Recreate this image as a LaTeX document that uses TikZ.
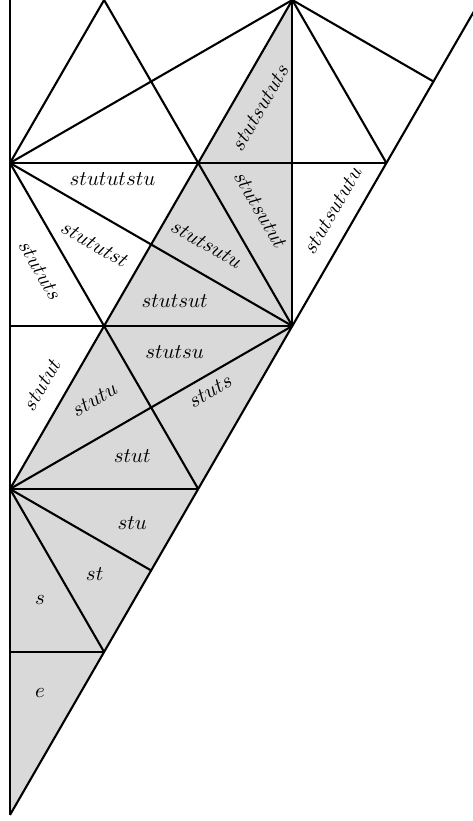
\documentclass[tikz,border=0pt]{standalone}
\begin{document}
\begin{tikzpicture}[x=1.582cm, y=2.74cm, line join=round,
    wall/.style={line width=1pt},
    cell/.style={inner sep=1pt}]
    \useasboundingbox (-0.106,-0.037) rectangle (4.92,5);
    \clip (-0.106,-0.037) rectangle (4.92,5);
    % shaded alcoves
    \fill[gray!30] (0,0) -- (0,2) -- (3,5) -- (3,3) -- cycle;
    % walls
    \draw[wall] (0,0) -- (0,5.2);
    \draw[wall] (0,0) -- (5.2,5.2);
    \foreach \k in {1,...,4}
      \draw[wall] (0,\k) -- (\k,\k);
    \draw[wall] (3,3) -- (3,5.2);
    \draw[wall] (0,2) -- (1,1);
    \draw[wall] (0,2) -- (1.5,1.5);
    \draw[wall] (0,2) -- (3,3);
    \draw[wall] (0,2) -- (3,5);
    \draw[wall] (0,4) -- (2,2);
    \draw[wall] (0,4) -- (3,3);
    \draw[wall] (1,5) -- (3,3);
    \draw[wall] (0,4) -- (1,5);
    \draw[wall] (0,4) -- (3,5);
    \draw[wall] (3,5) -- (4,4);
    \draw[wall] (3,5) -- (4.5,4.5);
    % labels
    \node[cell] (e) at (0.32,0.75) {$e$};
    \node[cell] (s) at (0.32,1.32) {$s$};
    \node[cell] (st) at (0.90,1.48) {$st$};
    \node[cell] (stu) at (1.30,1.79) {$stu$};
    \node[cell] (stut) at (1.30,2.20) {$stut$};
    \node[cell, rotate=30] (stutu) at (0.90,2.55) {$stutu$};
    \node[cell, rotate=30] (stuts) at (2.13,2.60) {$stuts$};
    \node[cell] (stutsu) at (1.75,2.84) {$stutsu$};
    \node[cell, rotate=60] (stutut) at (0.34,2.64) {$stutut$};
    \node[cell] (stutsut) at (1.75,3.15) {$stutsut$};
    \node[cell, rotate=-60] (stututs) at (0.32,3.34) {$stututs$};
    \node[cell, rotate=-30] (stututst) at (0.90,3.50) {$stututst$};
    \node[cell] (stututstu) at (1.09,3.90) {$stututstu$};
    \node[cell, rotate=-30] (stutsutu) at (2.09,3.50) {$stutsutu$};
    \node[cell, rotate=-60] (stutsutut) at (2.66,3.71) {$stutsutut$};
    \node[cell, rotate=60] (stutsututu) at (3.43,3.71) {$stutsututu$};
    \node[cell, rotate=60] (stutsututs) at (2.66,4.34) {$stutsututs$};
  \end{tikzpicture}
\end{document}
